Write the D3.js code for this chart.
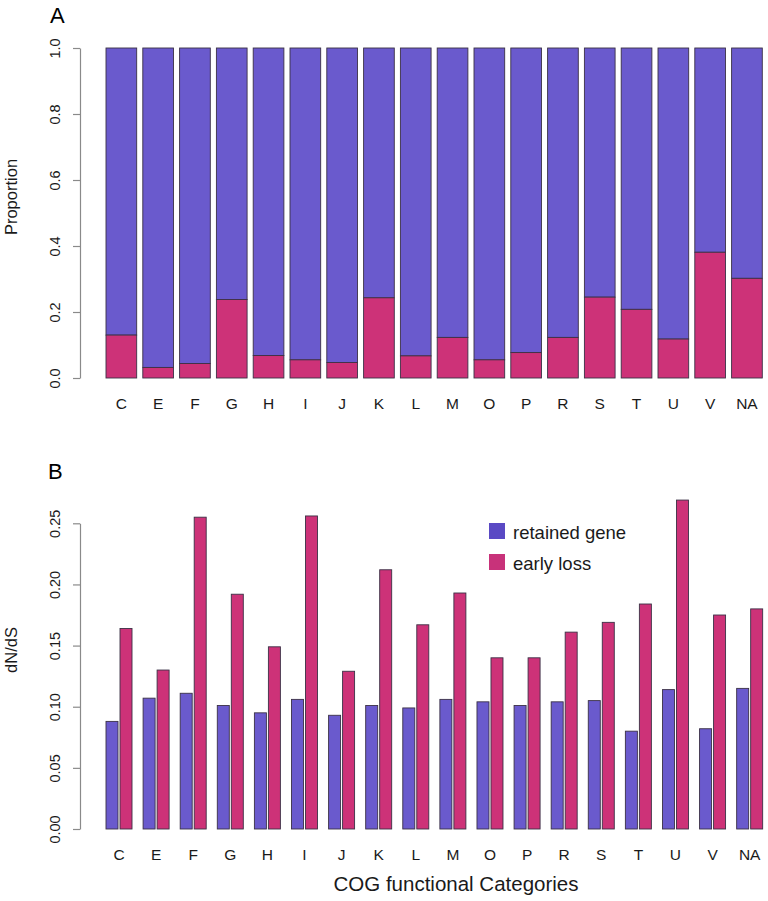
<!DOCTYPE html>
<html>
<head>
<meta charset="utf-8">
<script src="https://cdn.jsdelivr.net/npm/d3@7"></script>
<style>
  html, body { margin: 0; padding: 0; background: #fff; }
  svg { display: block; font-family: "Liberation Sans", Arial, Helvetica, sans-serif; }
</style>
</head>
<body>
<svg id="chart" width="768" height="901"></svg>
<script>
// ---------- DATA ----------
const categories = ["C","E","F","G","H","I","J","K","L","M","O","P","R","S","T","U","V","NA"];
// Panel A: proportion of early-loss genes (rest is retained)
const earlyLossProportion = [0.130,0.032,0.044,0.238,0.068,0.055,0.047,0.243,0.067,0.123,0.055,0.077,0.123,0.245,0.208,0.118,0.381,0.302];
// Panel B: dN/dS
const dndsRetained = [0.088,0.107,0.111,0.101,0.095,0.106,0.093,0.101,0.099,0.106,0.104,0.101,0.104,0.105,0.080,0.114,0.082,0.115];
const dndsEarlyLoss = [0.164,0.130,0.255,0.192,0.149,0.256,0.129,0.212,0.167,0.193,0.140,0.140,0.161,0.169,0.184,0.269,0.175,0.180];
const seriesNames = ["retained gene","early loss"];
const ticksA = [0,0.2,0.4,0.6,0.8,1.0];
const ticksB = [0,0.05,0.10,0.15,0.20,0.25];

// ---------- STYLE ----------
const colBlue = "#6A5ACD", colPink = "#CD3278";
const legBlue = "#5a49c4", legPink = "#c8327a";
const barStroke = "#3b3146";
const axisCol = "#8a8a8a";
const textCol = "#1a1a1a";

const svg = d3.select("#chart");
const axisX = 80;

// ---------- PANEL A ----------
const yA = d3.scaleLinear().domain([0,1]).range([378,48]);
const stepA = 36.8;
const xA = d3.scaleBand().domain(categories)
  .range([106 - 0.083*stepA, 106 - 0.083*stepA + 18*stepA])
  .paddingInner(0.166).paddingOuter(0.083);

const gA = svg.append("g");
const rowsA = categories.map((c,i)=>({cat:c, loss:earlyLossProportion[i]}));
gA.selectAll("rect.ret").data(rowsA).join("rect")
  .attr("x", d=>xA(d.cat)).attr("width", xA.bandwidth())
  .attr("y", yA(1)).attr("height", d=>yA(d.loss)-yA(1))
  .attr("fill", colBlue).attr("stroke", barStroke).attr("stroke-width", 0.9);
gA.selectAll("rect.loss").data(rowsA).join("rect")
  .attr("x", d=>xA(d.cat)).attr("width", xA.bandwidth())
  .attr("y", d=>yA(d.loss)).attr("height", d=>yA(0)-yA(d.loss))
  .attr("fill", colPink).attr("stroke", barStroke).attr("stroke-width", 0.9);

function styleYAxis(g) {
  g.select(".domain").attr("stroke", axisCol).attr("stroke-width", 1.2);
  g.selectAll(".tick line").attr("stroke", axisCol).attr("stroke-width", 1.2);
  g.selectAll(".tick text")
    .attr("transform","rotate(-90)")
    .attr("x", 0).attr("y", -20).attr("dy", 0)
    .attr("text-anchor","middle")
    .attr("fill", textCol)
    .style("font-size","14.5px");
}
const axA = svg.append("g").attr("transform",`translate(${axisX},0)`)
  .call(d3.axisLeft(yA).tickValues(ticksA).tickFormat(d3.format(".1f")).tickSize(7).tickSizeOuter(0));
styleYAxis(axA);

svg.append("g").selectAll("text").data(categories).join("text")
  .attr("x", d=>xA(d)+xA.bandwidth()/2).attr("y", 409)
  .attr("text-anchor","middle").attr("fill", textCol).style("font-size","15.5px")
  .text(d=>d);

svg.append("text").attr("transform","translate(17,197) rotate(-90)")
  .attr("text-anchor","middle").attr("fill", textCol).style("font-size","16.5px").text("Proportion");
svg.append("text").attr("x",50).attr("y",23).attr("fill","#000").style("font-size","22px").text("A");

// ---------- PANEL B ----------
const yB = d3.scaleLinear().domain([0,0.25]).range([829,523.3]);
const stepB = 37.1;
const x0 = d3.scaleBand().domain(categories)
  .range([106 - 0.15*stepB, 106 - 0.15*stepB + 18*stepB])
  .paddingInner(0.299).paddingOuter(0.15);
const x1 = d3.scaleBand().domain(seriesNames).range([0, x0.bandwidth()]).paddingInner(0.1429).paddingOuter(0);

const rowsB = categories.map((c,i)=>({cat:c, vals:[
  {s:seriesNames[0], v:dndsRetained[i], col:colBlue},
  {s:seriesNames[1], v:dndsEarlyLoss[i], col:colPink}]}));
const gB = svg.append("g");
gB.selectAll("g").data(rowsB).join("g")
  .attr("transform", d=>`translate(${x0(d.cat)},0)`)
  .selectAll("rect").data(d=>d.vals).join("rect")
  .attr("x", d=>x1(d.s)).attr("width", x1.bandwidth())
  .attr("y", d=>yB(d.v)).attr("height", d=>yB(0)-yB(d.v))
  .attr("fill", d=>d.col).attr("stroke", barStroke).attr("stroke-width", 0.9);

const axB = svg.append("g").attr("transform",`translate(${axisX},0)`)
  .call(d3.axisLeft(yB).tickValues(ticksB).tickFormat(d3.format(".2f")).tickSize(7).tickSizeOuter(0));
styleYAxis(axB);

svg.append("g").selectAll("text").data(categories).join("text")
  .attr("x", d=>x0(d)+x0.bandwidth()/2).attr("y", 860)
  .attr("text-anchor","middle").attr("fill", textCol).style("font-size","15.5px")
  .text(d=>d);

svg.append("text").attr("transform","translate(17,650) rotate(-90)")
  .attr("text-anchor","middle").attr("fill", textCol).style("font-size","16.5px").text("dN/dS");
svg.append("text").attr("x",48).attr("y",479).attr("fill","#000").style("font-size","22px").text("B");
svg.append("text").attr("x",456).attr("y",891).attr("text-anchor","middle")
  .attr("fill", textCol).style("font-size","20.5px").text("COG functional Categories");

// legend
const legend = svg.append("g");
const legCols = [legBlue, legPink];
seriesNames.forEach((n,i)=>{
  const y = 523 + i*31;
  legend.append("rect").attr("x",489).attr("y",y).attr("width",16).attr("height",16).attr("fill",legCols[i]);
  legend.append("text").attr("x",513).attr("y",y+16).attr("fill",textCol).style("font-size","18.5px").text(n);
});
</script>
</body>
</html>
